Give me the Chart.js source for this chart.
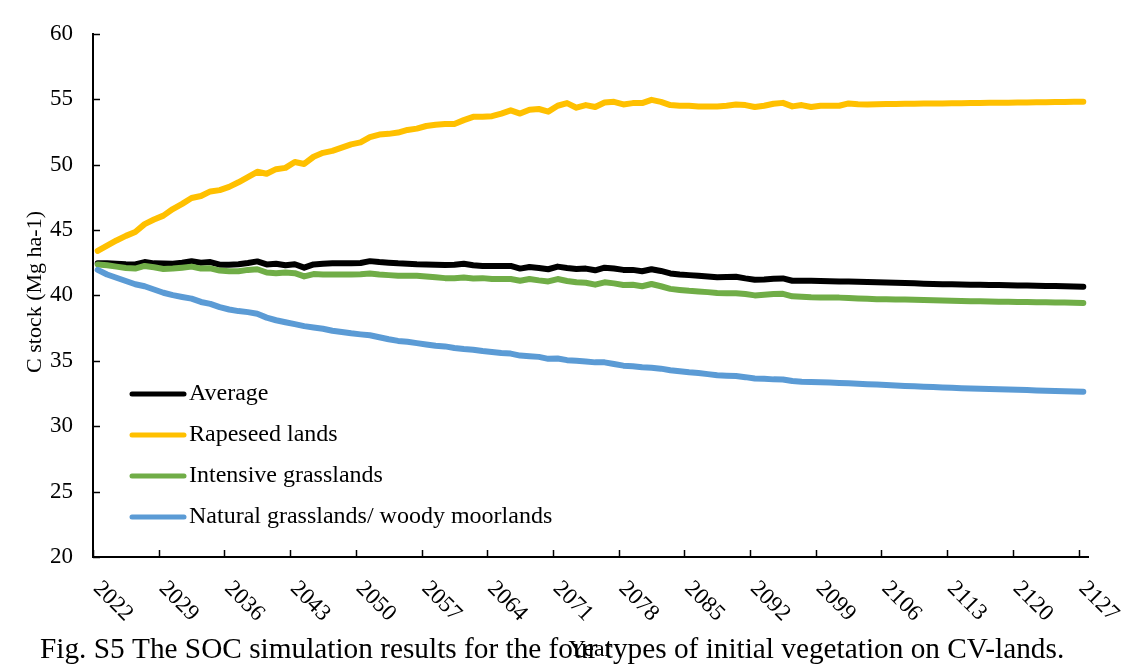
<!DOCTYPE html>
<html>
<head>
<meta charset="utf-8">
<script src="https://cdn.jsdelivr.net/npm/chart.js@4/dist/chart.umd.min.js"></script>
<style>
html,body{margin:0;padding:0;background:#fff;}
#wrap{width:1124px;height:668px;}
</style>
</head>
<body>
<div id="wrap"><canvas id="c" width="1124" height="668"></canvas></div>
<script>
const FIRST_YEAR = 2022;
const LAST_YEAR = 2127;
const years = [];
for (let y = FIRST_YEAR; y <= LAST_YEAR; y++) years.push(String(y));
const tickEvery = 7;

const seriesNames = ["Average", "Rapeseed lands", "Intensive grasslands", "Natural grasslands/ woody moorlands"];
const seriesColors = ["#000000", "#FFC000", "#70AD47", "#5B9BD5"];

const average = [
42.45,42.45,42.42,42.38,42.37,42.55,42.45,42.43,42.42,42.5,
42.62,42.5,42.55,42.35,42.35,42.38,42.48,42.6,42.37,42.42,
42.3,42.38,42.12,42.37,42.42,42.45,42.45,42.45,42.48,42.62,
42.55,42.5,42.45,42.42,42.38,42.37,42.35,42.32,42.35,42.42,
42.3,42.25,42.25,42.25,42.25,42.05,42.17,42.1,42.0,42.2,
42.1,42.02,42.05,41.92,42.12,42.05,41.95,41.95,41.85,42.0,
41.87,41.68,41.6,41.55,41.5,41.45,41.38,41.4,41.42,41.3,
41.2,41.22,41.28,41.3,41.12,41.12,41.12,41.1,41.08,41.07,
41.06,41.04,41.02,41.0,40.98,40.96,40.94,40.92,40.9,40.88,
40.86,40.85,40.84,40.82,40.81,40.8,40.79,40.78,40.76,40.75,
40.73,40.72,40.71,40.7,40.68,40.67];

const rapeseed = [
43.4,43.8,44.2,44.55,44.85,45.45,45.8,46.1,46.6,47.0,
47.45,47.6,47.95,48.05,48.3,48.65,49.05,49.45,49.3,49.65,
49.75,50.2,50.05,50.6,50.9,51.05,51.3,51.55,51.7,52.1,
52.3,52.35,52.45,52.65,52.75,52.95,53.05,53.1,53.1,53.4,
53.65,53.65,53.7,53.9,54.15,53.9,54.2,54.25,54.05,54.5,
54.7,54.35,54.55,54.4,54.75,54.8,54.6,54.7,54.7,54.95,
54.8,54.55,54.5,54.5,54.45,54.45,54.45,54.5,54.6,54.55,
54.4,54.5,54.65,54.72,54.45,54.55,54.4,54.5,54.5,54.5,
54.68,54.62,54.6,54.62,54.63,54.64,54.65,54.66,54.67,54.67,
54.68,54.69,54.69,54.7,54.71,54.72,54.73,54.73,54.74,54.75,
54.76,54.77,54.78,54.78,54.8,54.8];

const intensive = [
42.37,42.3,42.2,42.1,42.05,42.25,42.15,42.02,42.05,42.12,
42.2,42.05,42.07,41.9,41.85,41.85,41.95,42.0,41.75,41.7,
41.75,41.7,41.45,41.63,41.6,41.6,41.6,41.6,41.62,41.67,
41.6,41.55,41.5,41.5,41.5,41.45,41.38,41.32,41.32,41.37,
41.3,41.32,41.25,41.25,41.25,41.12,41.25,41.15,41.07,41.25,
41.1,41.0,40.97,40.82,41.0,40.92,40.8,40.82,40.7,40.87,
40.7,40.5,40.42,40.35,40.3,40.25,40.18,40.17,40.17,40.1,
40.0,40.05,40.1,40.12,39.93,39.9,39.85,39.83,39.83,39.83,
39.8,39.77,39.74,39.71,39.7,39.69,39.68,39.66,39.64,39.62,
39.61,39.6,39.58,39.56,39.55,39.54,39.52,39.51,39.5,39.49,
39.48,39.47,39.46,39.45,39.43,39.42];

const natural = [
41.95,41.6,41.35,41.1,40.85,40.7,40.45,40.2,40.02,39.88,
39.75,39.5,39.35,39.1,38.92,38.8,38.72,38.6,38.3,38.1,
37.95,37.8,37.65,37.55,37.45,37.3,37.2,37.1,37.02,36.95,
36.8,36.65,36.52,36.45,36.35,36.25,36.15,36.1,35.98,35.9,
35.85,35.75,35.68,35.6,35.55,35.4,35.35,35.3,35.15,35.18,
35.05,35.0,34.95,34.88,34.88,34.75,34.63,34.58,34.5,34.47,
34.4,34.28,34.2,34.12,34.06,33.98,33.9,33.86,33.83,33.75,
33.65,33.62,33.58,33.57,33.45,33.4,33.38,33.36,33.34,33.31,
33.28,33.24,33.21,33.18,33.15,33.11,33.08,33.05,33.02,32.99,
32.96,32.94,32.91,32.88,32.86,32.84,32.82,32.8,32.78,32.76,
32.73,32.71,32.69,32.67,32.65,32.64];

const Y_MIN = 20, Y_MAX = 60, Y_STEP = 5;
const yTitle = "C stock (Mg ha-1)";
const xTitle = "Year";
const caption = "Fig. S5 The SOC simulation results for the four types of initial vegetation on CV-lands.";

const FONT = "'Liberation Serif', 'Times New Roman', serif";

const extras = {
  id: 'extras',
  afterDraw(chart) {
    const ctx = chart.ctx;
    const xs = chart.scales.x, ys = chart.scales.y;
    const area = chart.chartArea;
    ctx.save();
    ctx.strokeStyle = '#000';
    ctx.lineWidth = 1.5;
    // y inside ticks
    ys.ticks.forEach(t => {
      const py = Math.round(ys.getPixelForValue(t.value)) + 0.5;
      ctx.beginPath(); ctx.moveTo(area.left, py); ctx.lineTo(area.left + 7, py); ctx.stroke();
    });
    // x inside ticks at category boundaries every 7
    const half = (xs.getPixelForValue(1) - xs.getPixelForValue(0)) / 2;
    for (let i = 0; i < years.length; i += tickEvery) {
      const px = Math.round(xs.getPixelForValue(i) - half) + 0.5;
      ctx.beginPath(); ctx.moveTo(px, area.bottom); ctx.lineTo(px, area.bottom - 7); ctx.stroke();
    }
    // x labels rotated
    ctx.fillStyle = '#000';
    ctx.font = "23px " + FONT;
    ctx.textAlign = 'left';
    ctx.textBaseline = 'middle';
    for (let i = 0; i < years.length; i += tickEvery) {
      const px = xs.getPixelForValue(i) - 1;
      ctx.save();
      ctx.translate(px, area.bottom + 28);
      ctx.rotate(Math.PI / 4);
      ctx.fillText(years[i], 0, 0);
      ctx.restore();
    }
    // y title
    ctx.save();
    ctx.font = "22px " + FONT;
    ctx.textAlign = 'center';
    ctx.textBaseline = 'middle';
    ctx.translate(35, 292);
    ctx.rotate(-Math.PI / 2);
    ctx.fillText(yTitle, 0, 0);
    ctx.restore();
    // caption and x title
    ctx.font = "29.3px " + FONT;
    ctx.textAlign = 'left';
    ctx.textBaseline = 'middle';
    ctx.fillText(caption, 40, 650);
    ctx.font = "24px " + FONT;
    ctx.textAlign = 'center';
    ctx.fillText(xTitle, (area.left + area.right) / 2, 650);
    // legend
    const rows = [394, 435, 476, 517];
    chart.data.datasets.forEach((ds, i) => {
      const y = rows[i];
      ctx.strokeStyle = ds.borderColor;
      ctx.lineWidth = 5;
      ctx.lineCap = 'round';
      ctx.beginPath(); ctx.moveTo(132, y); ctx.lineTo(184, y); ctx.stroke();
      ctx.fillStyle = '#000';
      ctx.font = "24px " + FONT;
      ctx.textAlign = 'left';
      ctx.textBaseline = 'middle';
      ctx.fillText(ds.label, 189, y);
    });
    ctx.restore();
  }
};

const allSeries = [average, rapeseed, intensive, natural];
const datasets = allSeries.map((d, i) => ({
  label: seriesNames[i],
  data: d,
  borderColor: seriesColors[i],
  backgroundColor: seriesColors[i],
  borderWidth: 6,
  pointRadius: 0,
  tension: 0,
  borderCapStyle: 'round',
  borderJoinStyle: 'round',
  order: 4 - i
}));

new Chart(document.getElementById('c'), {
  type: 'line',
  data: { labels: years, datasets },
  options: {
    responsive: false,
    animation: false,
    devicePixelRatio: 1,
    layout: { padding: { left: 0, top: 23, right: 36, bottom: 0 } },
    plugins: { legend: { display: false }, tooltip: { enabled: false } },
    scales: {
      x: {
        type: 'category',
        offset: true,
        grid: { display: false, drawTicks: false },
        border: { display: true, color: '#000', width: 2 },
        ticks: { display: false },
        afterFit(s) { s.height = 111; }
      },
      y: {
        min: Y_MIN, max: Y_MAX,
        grid: { display: false, drawTicks: false },
        border: { display: true, color: '#000', width: 2 },
        ticks: { stepSize: Y_STEP, color: '#000', padding: 20, font: { family: FONT, size: 23 } },
        afterFit(s) { s.width = 93; }
      }
    }
  },
  plugins: [extras]
});
</script>
</body>
</html>
